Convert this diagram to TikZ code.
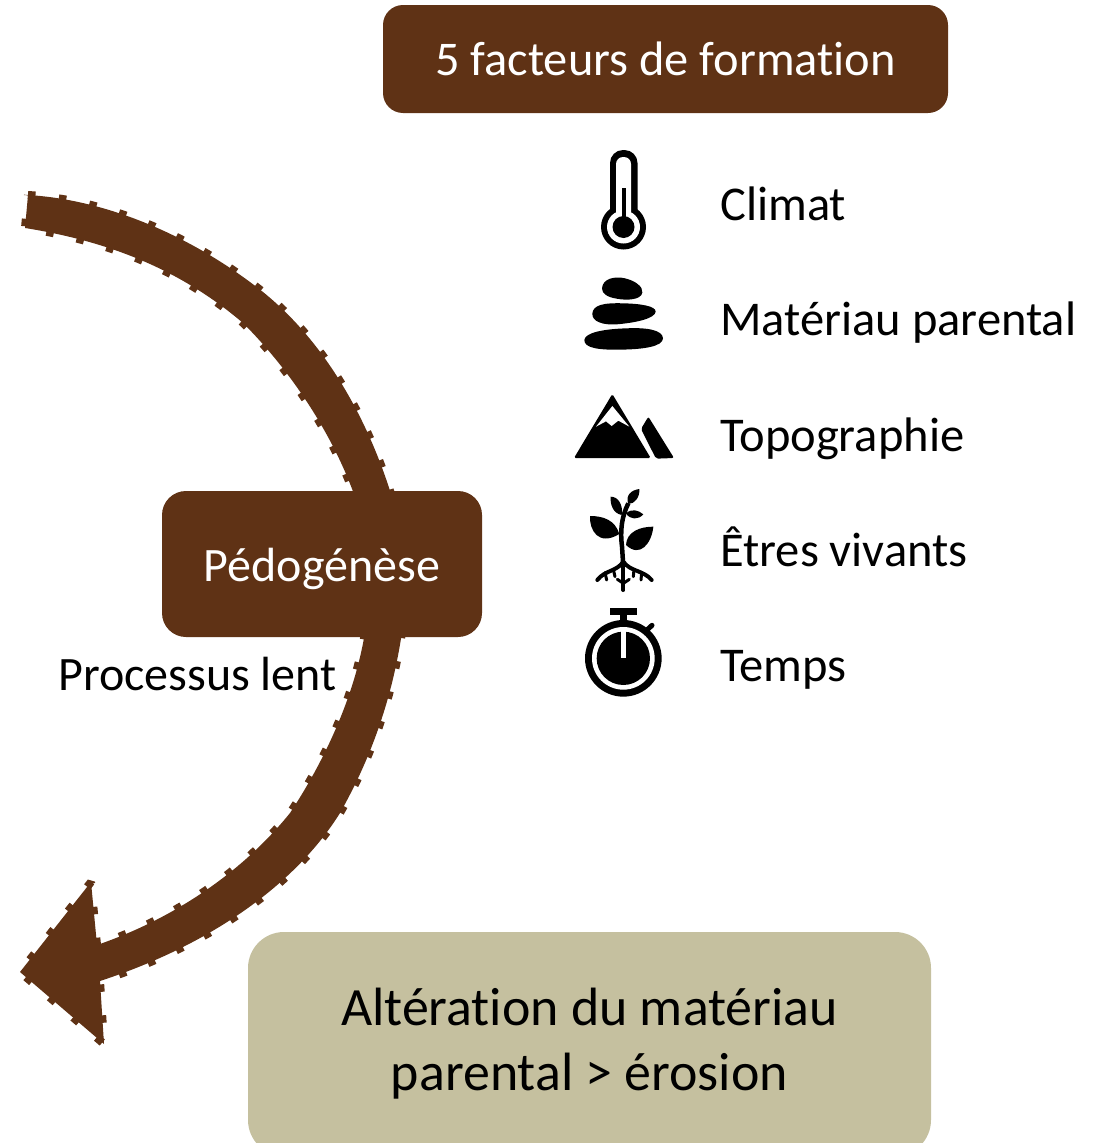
\documentclass[tikz,border=0pt]{standalone}
\usepackage{fontspec}
\setmainfont{Carlito}[Ligatures=NoCommon]
\definecolor{brun}{HTML}{5F3215}
\definecolor{beige}{HTML}{C5C09F}
\tikzset{
  flow/.style={fill=brun,draw=brun,line width=8pt,line join=bevel,dash pattern=on 7.5pt off 23.5pt},
  darkbox/.style={fill=brun,text=white,inner sep=0pt,align=center},
  lab/.style={anchor=base west,inner sep=0pt,font=\fontsize{48.5}{52}\selectfont},
  ink/.style={fill=black,draw=none},
  paper/.style={fill=white,draw=none}
}
\newcommand{\lowered}[1]{\raisebox{-17pt}[0pt][0pt]{#1}}
\begin{document}
\begin{tikzpicture}[x=1pt,y=-1pt]
\useasboundingbox (0,0) rectangle (1100,1143);
\clip (0,0) rectangle (1100,1143);
% upper arrow band
\path[flow] (28,195) .. controls (110,200) and (195,238) .. (263,292)
  .. controls (320,338) and (365,410) .. (392,497)
  -- (355,497) .. controls (335,440) and (295,375) .. (243,323)
  .. controls (175,265) and (100,240) .. (25,228) -- cycle;
% lower arrow band and head
\path[flow] (365,632) .. controls (355,695) and (325,760) .. (290,813)
  .. controls (240,875) and (170,920) .. (97,945)
  -- (91,882) -- (20,972) -- (104,1044) -- (100,981)
  .. controls (210,945) and (295,885) .. (340,813)
  .. controls (370,760) and (392,700) .. (402,632) -- cycle;
\node[darkbox,rounded corners=20pt,minimum width=565pt,minimum height=108pt,
  font=\fontsize{48.4}{52}\selectfont] (titre) at (665.5,59) {\lowered{5 facteurs de formation}};
\node[darkbox,rounded corners=24pt,minimum width=320pt,minimum height=146pt,
  font=\fontsize{48}{52}\selectfont] (pedo) at (322,564) {\lowered{Pédogénèse}};
\node[fill=beige,rounded corners=36pt,inner sep=0pt,minimum width=683pt,minimum height=224pt,
  align=center,font=\fontsize{53.9}{65}\selectfont] (alter) at (589.5,1044)
  {Altération du matériau\\parental > érosion};
\node[lab,font=\fontsize{48}{52}\selectfont] (lent) at (58,690) {Processus lent};
\node[lab] (climat) at (720,220.5) {Climat};
\node[lab] (mat) at (720,335.5) {Matériau parental};
\node[lab] (topo) at (720,451.5) {Topographie};
\node[lab] (etres) at (720,566.5) {Êtres vivants};
\node[lab] (temps) at (720,681.5) {Temps};
% thermometer
\fill[ink] (623.5,227) circle (22.5);
\fill[ink,rounded corners=13pt] (610,232) -- (610,150) -- (637.5,150) -- (637.5,232) -- cycle;
\fill[paper] (623.5,227) circle (16.5);
\fill[paper,rounded corners=7pt] (616,225) -- (616,157) -- (631,157) -- (631,225) -- cycle;
\fill[ink] (623.5,227) circle (11);
\fill[ink] (621.5,188) rectangle (626,225);
% stones
\begin{scope}[shift={(560,140)},scale=1/3]
\fill[ink] (126,445) .. controls (128,415) and (165,408) .. (195,415) .. controls (225,422) and (250,440) .. (247,458) .. controls (243,480) and (200,482) .. (170,476) .. controls (145,472) and (125,462) .. (126,445) -- cycle;
\fill[ink] (97,520) .. controls (100,495) and (130,488) .. (190,490) .. controls (240,491) and (288,498) .. (287,515) .. controls (285,535) and (230,548) .. (170,553) .. controls (130,556) and (95,545) .. (97,520) -- cycle;
\fill[ink] (73,600) .. controls (75,578) and (130,567) .. (200,565) .. controls (260,562) and (308,570) .. (309,595) .. controls (308,620) and (250,628) .. (180,629) .. controls (120,630) and (72,625) .. (73,600) -- cycle;
\end{scope}
% mountains
\begin{scope}[shift={(560,380)},scale=1/3]
\fill[ink,rounded corners=1.5pt] (157,42) -- (272,234) -- (42,234) -- cycle;
\fill[paper] (157,78) -- (208,140) -- (175,122) -- (155,138) -- (138,124) -- (108,140) -- cycle;
\fill[ink,rounded corners=2pt] (265,110) -- (342,234) -- (288,236) -- (243,147) -- cycle;
% plant
\draw[black,line width=4.5pt] (205,370) .. controls (185,410) and (180,450) .. (186,500) -- (190,560);
\fill[ink] (178,462) .. controls (165,420) and (130,408) .. (90,408) .. controls (88,450) and (115,500) .. (178,462) -- cycle;
\fill[ink] (198,495) .. controls (200,455) and (240,440) .. (280,440) .. controls (275,490) and (240,535) .. (198,495) -- cycle;
\fill[ink] (205,372) .. controls (195,345) and (215,330) .. (238,327) .. controls (240,350) and (225,372) .. (205,372) -- cycle;
\fill[ink] (185,405) .. controls (160,400) and (150,375) .. (152,350) .. controls (175,350) and (190,375) .. (185,405) -- cycle;
\fill[ink] (198,400) .. controls (215,385) and (235,390) .. (250,403) .. controls (235,420) and (210,420) .. (198,400) -- cycle;
\draw[black,line width=4pt,line cap=round] (190,545) .. controls (170,575) and (135,570) .. (112,600);
\draw[black,line width=4pt,line cap=round] (190,545) .. controls (210,575) and (250,570) .. (275,600);
\draw[black,line width=4pt,line cap=round] (190,555) -- (190,630);
\draw[black,line width=3pt,line cap=round] (135,578) -- (140,600) (160,568) -- (165,590);
\draw[black,line width=3pt,line cap=round] (245,578) -- (243,600) (222,568) -- (220,590);
\draw[black,line width=3pt,line cap=round] (190,610) -- (172,598) (190,610) -- (208,598);
% stopwatch
\fill[ink] (190,835) circle (115);
\fill[ink] (150,685) rectangle (232,705);
\fill[ink] (180,700) rectangle (200,730);
\draw[black,line width=5pt,line cap=round] (252,758) -- (276,736);
\fill[paper] (190,835) circle (94);
\fill[ink] (190,835) circle (80);
\fill[paper] (184,752) rectangle (197,835);
\end{scope}
\end{tikzpicture}
\end{document}
